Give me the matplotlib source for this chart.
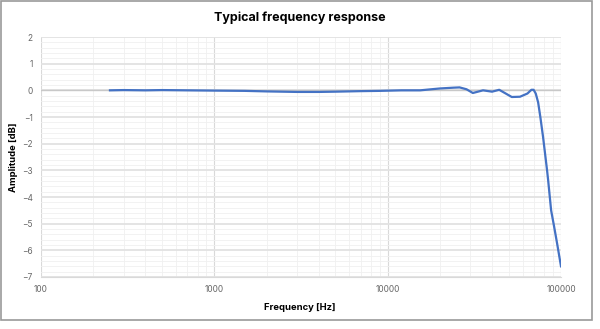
import numpy as np
import matplotlib
matplotlib.use("Agg")
import matplotlib.pyplot as plt
from matplotlib.ticker import LogLocator, FixedLocator, MultipleLocator, NullFormatter
from matplotlib.patches import Rectangle

plt.rcParams['font.family'] = ['Inter', 'DejaVu Sans']

freq_hz = [250, 300, 400, 500, 700, 1000, 1500, 2000, 3000, 4000, 5000, 7000,
           9000, 12000, 15400, 20000, 24000, 26000, 28500, 31000, 35500, 40000, 44000,
           48000, 52000, 58000, 64000, 67500, 69500, 71500, 73800, 76000, 78800, 83100,
           84300, 87700, 91200, 95000, 100000]
amp_db = [0.0, 0.01, 0.0, 0.01, 0.0, -0.01, -0.02, -0.04, -0.06, -0.06, -0.05, -0.03,
          -0.02, 0.0, 0.0, 0.07, 0.1, 0.11, 0.04, -0.1, 0.0, -0.05, 0.02,
          -0.12, -0.25, -0.24, -0.12, 0.02, 0.02, -0.12, -0.45, -1.0, -1.75, -3.0,
          -3.37, -4.5, -5.1, -5.75, -6.6]

y_ticks = [2, 1, 0, -1, -2, -3, -4, -5, -6, -7]
x_ticks = [100, 1000, 10000, 100000]

fig = plt.figure(figsize=(6.0, 3.29), dpi=100)
fig.patches.append(Rectangle((0.001, 1 - 320 / 329), 591 / 600, 319 / 329,
                             transform=fig.transFigure, fill=False,
                             edgecolor='#999999', linewidth=1.2))
ax = fig.add_axes([41 / 600, 1 - 277 / 329, 520 / 600, 240 / 329])

ax.plot(freq_hz, amp_db, color='#4472C4', linewidth=1.6, solid_joinstyle='round')

ax.set_xscale('log')
ax.set_xlim(100, 100000)
ax.set_ylim(-7, 2)
ax.xaxis.set_major_locator(FixedLocator(x_ticks))
ax.set_xticklabels([str(t) for t in x_ticks])
ax.xaxis.set_minor_locator(LogLocator(base=10, subs=np.arange(2, 10)))
ax.xaxis.set_minor_formatter(NullFormatter())
ax.set_yticks(y_ticks)
ax.yaxis.set_minor_locator(MultipleLocator(0.2))

ax.grid(which='major', axis='y', color='#e2e2e2', linewidth=1.3)
ax.grid(which='major', axis='x', color='#d9d9d9', linewidth=0.8)
ax.grid(which='minor', color='#f0f0f0', linewidth=0.6)
ax.axhline(0, color='#c8c8c8', linewidth=1.0, zorder=1)
ax.set_axisbelow(True)

for s in ax.spines.values():
    s.set_visible(False)
ax.spines['bottom'].set_visible(True)
ax.spines['bottom'].set_color('#d9d9d9')
ax.tick_params(which='both', length=0, colors='#666666', labelsize=6, pad=6)

fig.text(0.5, 1 - 307 / 329, 'Frequency [Hz]', ha='center', va='center',
         fontsize=6.8, fontweight='bold')
fig.text(13 / 600, 1 - 157 / 329, 'Amplitude [dB]', ha='center', va='center',
         rotation=90, fontsize=6.8, fontweight='bold')
fig.text(0.5, 1 - 18 / 329, 'Typical frequency response', ha='center', va='center',
         fontsize=9, fontweight='bold')

fig.savefig('out.png', dpi=100)
